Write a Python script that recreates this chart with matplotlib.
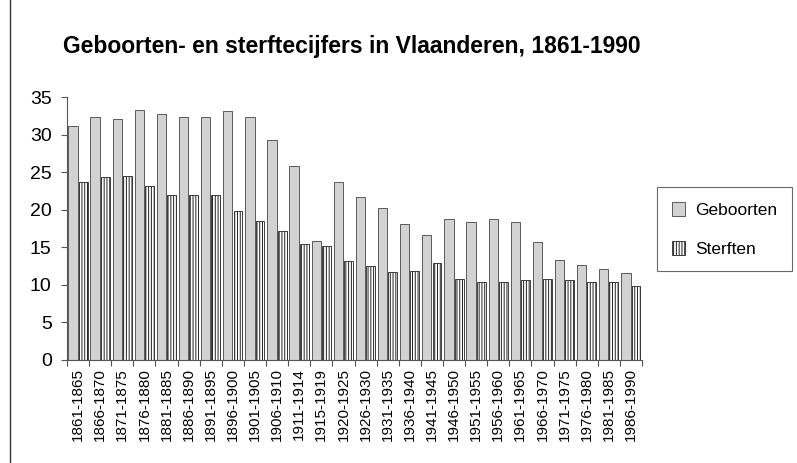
import matplotlib
matplotlib.use("Agg")
import matplotlib.pyplot as plt
from matplotlib.lines import Line2D
import numpy as np

periods = ["1861-1865", "1866-1870", "1871-1875", "1876-1880", "1881-1885",
           "1886-1890", "1891-1895", "1896-1900", "1901-1905", "1906-1910",
           "1911-1914", "1915-1919", "1920-1925", "1926-1930", "1931-1935",
           "1936-1940", "1941-1945", "1946-1950", "1951-1955", "1956-1960",
           "1961-1965", "1966-1970", "1971-1975", "1976-1980", "1981-1985",
           "1986-1990"]
geboorten = [31.2, 32.4, 32.1, 33.3, 32.7, 32.3, 32.4, 33.1, 32.4, 29.3,
             25.8, 15.9, 23.7, 21.7, 20.2, 18.1, 16.6, 18.7, 18.3, 18.7,
             18.4, 15.7, 13.3, 12.7, 12.1, 11.6]
sterften = [23.7, 24.3, 24.5, 23.2, 22.0, 22.0, 21.9, 19.8, 18.5, 17.2,
            15.5, 15.2, 13.2, 12.5, 11.7, 11.9, 12.9, 10.8, 10.4, 10.4,
            10.6, 10.8, 10.7, 10.4, 10.4, 9.9]
yticks = [0, 5, 10, 15, 20, 25, 30, 35]
title = "Geboorten- en sterftecijfers in Vlaanderen, 1861-1990"

plt.rcParams['font.family'] = ['Liberation Sans', 'DejaVu Sans']
plt.rcParams['hatch.linewidth'] = 0.7

fig = plt.figure(figsize=(7.97, 4.63), dpi=100)
ax = fig.add_axes([67/797, 1-360/463, (642-67)/797, (360-97)/463])

x = np.arange(len(periods))
ax.bar(x - 0.23, geboorten, width=0.42, color='#d2d2d2', edgecolor='#444444',
       linewidth=0.6, label='Geboorten')
ax.bar(x + 0.23, sterften, width=0.40, color='white', edgecolor='#222222',
       linewidth=0.6, hatch='||||||', label='Sterften')

ax.set_xlim(-0.5, len(periods) - 0.5)
ax.set_ylim(0, 35)
ax.set_yticks(yticks)
ax.set_yticklabels([str(v) for v in yticks], fontsize=14)
ax.tick_params(axis='y', direction='out', length=4, width=0.8, pad=7, color='#555555')

ax.set_xticks(x)
ax.set_xticklabels(periods, rotation=90, fontsize=11)
ax.tick_params(axis='x', which='major', length=0, pad=6)
ax.set_xticks(np.arange(-0.5, len(periods)), minor=True)
ax.tick_params(axis='x', which='minor', direction='out', length=4, width=0.8, color='#555555')

for s in ['top', 'right']:
    ax.spines[s].set_visible(False)
for s in ['left', 'bottom']:
    ax.spines[s].set_color('#555555')
    ax.spines[s].set_linewidth(0.8)

leg = fig.legend(loc='upper left', bbox_to_anchor=(657/797, 1-187/463),
                 borderaxespad=0, fontsize=12.5, frameon=True, fancybox=False,
                 edgecolor='#444444', handlelength=0.75, handleheight=0.9,
                 handletextpad=0.6, borderpad=0.85, labelspacing=1.3)
leg.get_frame().set_linewidth(0.8)

fig.text(63/797, 1-53/463, title, fontsize=16.5, fontweight='bold',
         ha='left', va='baseline')

fig.add_artist(Line2D([10/797, 10/797], [0, 1], transform=fig.transFigure,
                      color='#333333', linewidth=1.0))

fig.savefig('out.png', dpi=100)
